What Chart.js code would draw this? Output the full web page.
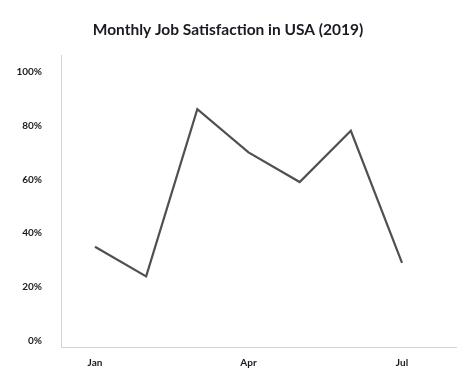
<!DOCTYPE html>
<html lang="en">
<head>
    <meta charset="UTF-8">
    <title>Monthly Job Satisfaction</title>
    <style>
        html, body { margin: 0; padding: 0; background: #fff; }
        #wrap { width: 474px; height: 385px; }
    </style>
</head>
<body>
    <div id="wrap"><canvas id="myChart"></canvas></div>

    <script src="https://cdn.jsdelivr.net/npm/chart.js@4"></script>
    <script>
        const months = ['Jan', 'Feb', 'Mar', 'Apr', 'May', 'Jun', 'Jul']
        const satisfaction = [35, 24, 86, 70, 59, 78, 29]
        const yTicks = [0, 20, 40, 60, 80, 100]

        const points = satisfaction.map((v, i) => ({ x: i, y: v }))

        const ctx = document.getElementById('myChart').getContext('2d')
        const chart = new Chart(ctx, {
            type: 'line',
            data: {
                datasets: [{
                    label: 'Job satisfaction',
                    data: points,
                    borderColor: '#505053',
                    borderWidth: 2.2,
                    pointRadius: 0,
                    tension: 0,
                    fill: false
                }]
            },
            options: {
                responsive: true,
                maintainAspectRatio: false,
                animation: false,
                layout: { padding: { left: 0, right: 18, top: 0, bottom: 0 } },
                plugins: {
                    legend: { display: false },
                    tooltip: { enabled: false },
                    title: {
                        display: true,
                        text: 'Monthly Job Satisfaction in USA (2019)',
                        color: '#1a1a22',
                        font: { family: 'Lato', size: 15.5, weight: 'bold' },
                        padding: { top: 21, bottom: 16 }
                    }
                },
                scales: {
                    x: {
                        type: 'linear',
                        min: -0.664,
                        max: 7.055,
                        grid: { display: false, drawTicks: false },
                        border: { color: '#d4d4d4', width: 1 },
                        afterBuildTicks: s => { s.ticks = [0, 3, 6].map(v => ({ value: v })) },
                        afterFit: s => { s.height = 38 },
                        ticks: {
                            padding: 10,
                            color: '#1a1a22',
                            font: { family: 'Lato', size: 10, weight: 'bold' },
                            callback: v => months[v] || ''
                        }
                    },
                    y: {
                        min: -2.2,
                        max: 105.9,
                        grid: { display: false, drawTicks: false },
                        border: { color: '#d4d4d4', width: 1 },
                        afterBuildTicks: s => { s.ticks = yTicks.map(v => ({ value: v })) },
                        afterFit: s => { s.width = 61 },
                        ticks: {
                            padding: 19,
                            color: '#1a1a22',
                            font: { family: 'Lato', size: 10, weight: 'bold' },
                            callback: v => v + '%'
                        }
                    }
                }
            }
        })
    </script>
</body>
</html>
